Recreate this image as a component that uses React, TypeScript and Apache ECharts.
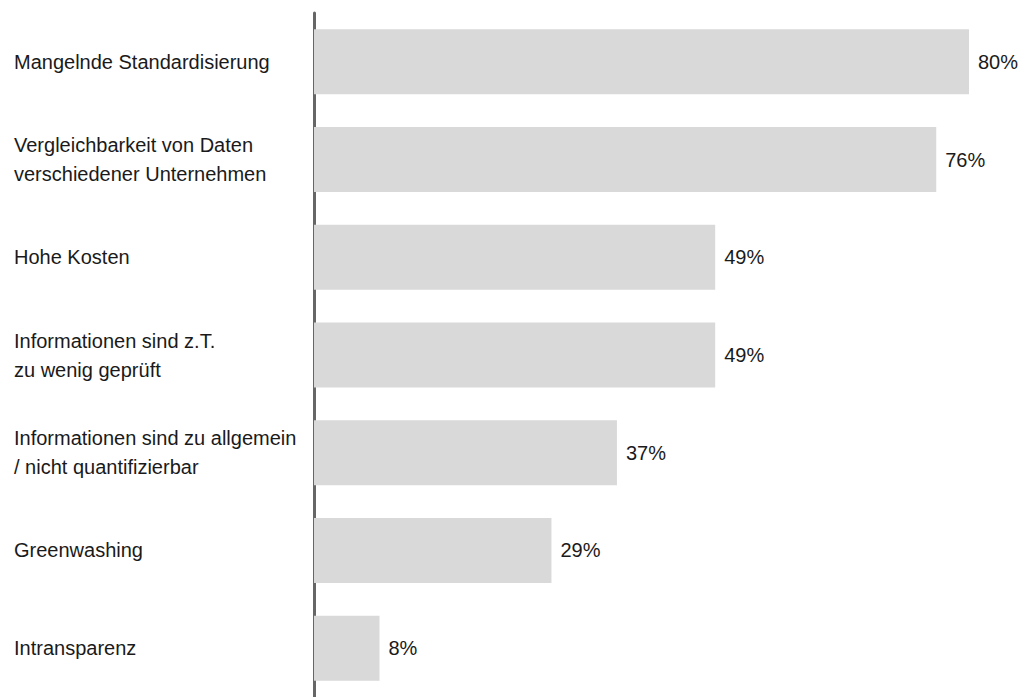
import React, { useEffect, useRef } from "react";
import * as echarts from "echarts";

const categories = [
  "Mangelnde Standardisierung",
  "Vergleichbarkeit von Daten\nverschiedener Unternehmen",
  "Hohe Kosten",
  "Informationen sind z.T.\nzu wenig geprüft",
  "Informationen sind zu allgemein\n/ nicht quantifizierbar",
  "Greenwashing",
  "Intransparenz",
];
const values = [80, 76, 49, 49, 37, 29, 8];

export default function App() {
  const ref = useRef<HTMLDivElement>(null);
  useEffect(() => {
    document.body.style.margin = "0";
    const chart = echarts.init(ref.current!, null, { renderer: "svg" });
    const font = "Liberation Sans";
    chart.setOption({
      animation: false,
      grid: { left: 314, right: 50, top: 13, bottom: -4, containLabel: false },
      xAxis: {
        type: "value",
        min: 0,
        max: 80,
        show: false,
      },
      yAxis: {
        type: "category",
        inverse: true,
        data: categories,
        axisLine: { show: true, lineStyle: { color: "#666666", width: 3 } },
        axisTick: { show: false },
        axisLabel: {
          align: "left",
          margin: 300,
          fontSize: 20,
          lineHeight: 29,
          color: "#1a1a1a",
          fontFamily: font,
        },
      },
      series: [
        {
          type: "bar",
          data: values,
          barWidth: 65,
          itemStyle: { color: "#d9d9d9" },
          label: {
            show: true,
            position: "right",
            distance: 9,
            formatter: "{c}%",
            fontSize: 20,
            color: "#1a1a1a",
            fontFamily: font,
          },
        },
      ],
    });
    return () => chart.dispose();
  }, []);
  return <div ref={ref} style={{ width: 1019, height: 697 }} />;
}
